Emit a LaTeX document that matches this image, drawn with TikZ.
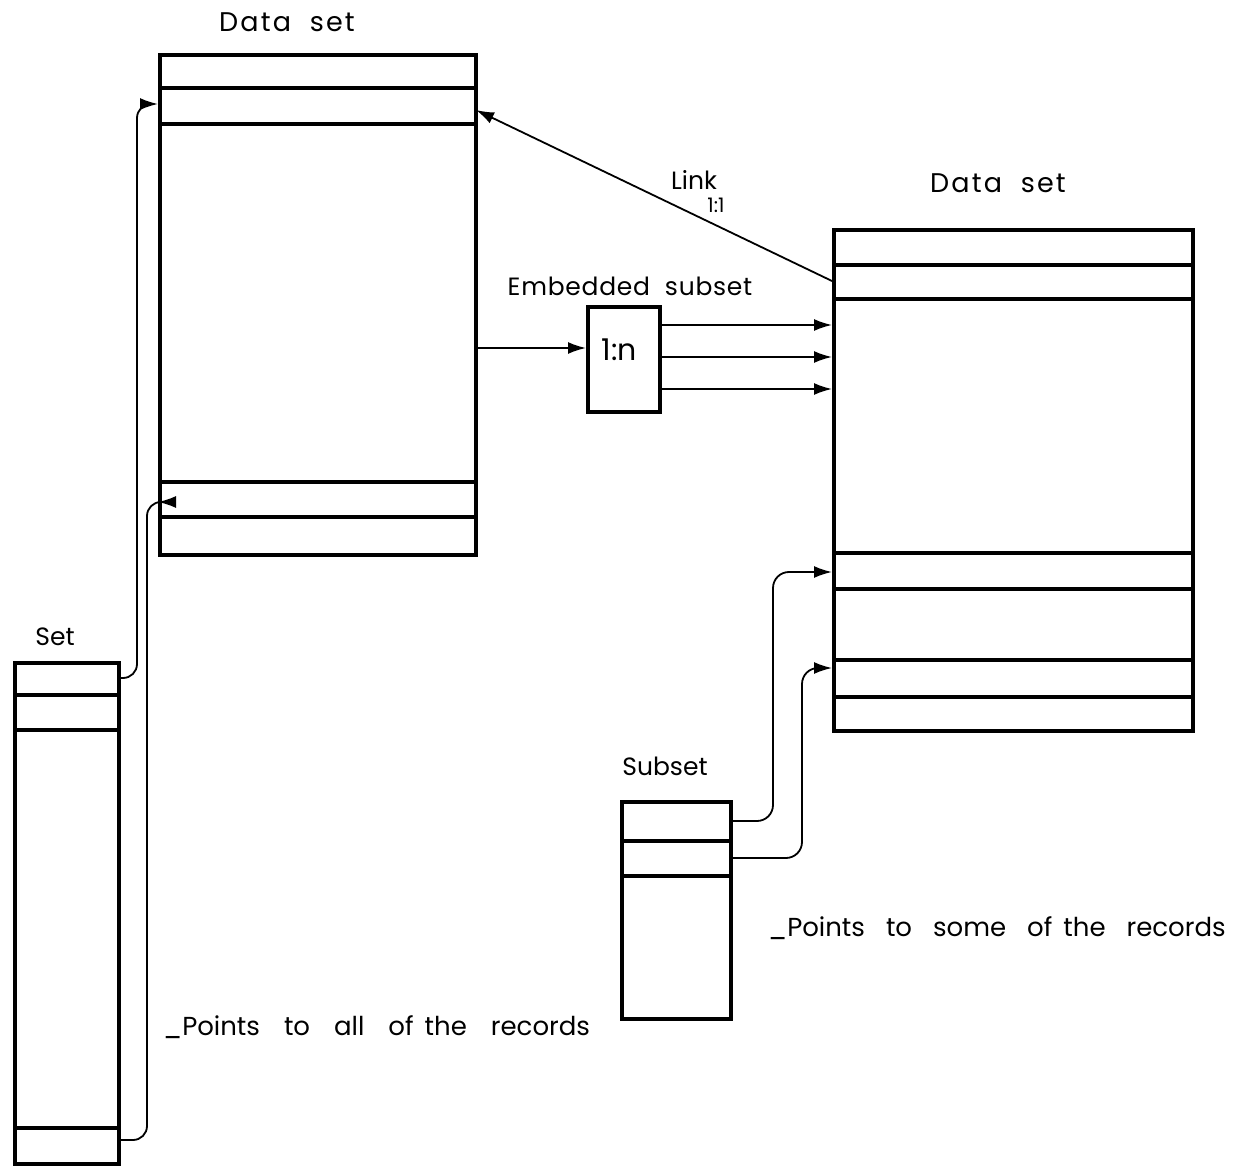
\documentclass[tikz,border=0pt]{standalone}
\usepackage{fontspec}
\setmainfont{Poppins}
\usetikzlibrary{arrows.meta}
\newcommand{\mywidegap}{\hspace{24pt}}
\newcommand{\mymidgap}{\hspace{21pt}}
\newcommand{\mynarrowgap}{\hspace{11pt}}
\begin{document}
\begin{tikzpicture}[x=1pt,y=-1pt,
  box/.style={draw, line width=4pt, inner sep=0pt, anchor=north west},
  sep/.style={line width=4pt},
  conn/.style={line width=1.8pt, -{Latex[length=18pt,width=12pt]}},
  lbl/.style={font=\fontsize{25}{29}\selectfont, inner sep=0pt},
  big/.style={font=\fontsize{27}{31}\selectfont\addfontfeature{LetterSpace=8}, inner sep=0pt},
  small/.style={font=\fontsize{20}{24}\selectfont, inner sep=0pt}]
\useasboundingbox (0,0) rectangle (1240,1174);
\fill[white] (0,0) rectangle (1240,1174);

% Data set (left)
\node[box, minimum width=316pt, minimum height=500pt] (ds1) at (158,53) {};
\draw[sep] (158,88) -- (474,88);
\draw[sep] (158,124) -- (474,124);
\draw[sep] (158,482) -- (474,482);
\draw[sep] (158,517) -- (474,517);
\node[big] (ds1label) at (287,22) {Data\ \ set};

% Data set (right)
\node[box, minimum width=359pt, minimum height=501pt] (ds2) at (832,228) {};
\draw[sep] (832,265) -- (1191,265);
\draw[sep] (832,299) -- (1191,299);
\draw[sep] (832,553) -- (1191,553);
\draw[sep] (832,589) -- (1191,589);
\draw[sep] (832,660) -- (1191,660);
\draw[sep] (832,697) -- (1191,697);
\node[big] (ds2label) at (998,183) {Data\ \ set};

% Embedded subset
\node[box, minimum width=72pt, minimum height=105pt] (emb) at (586,305) {};
\node[font=\fontsize{30}{34}\selectfont, inner sep=0pt] (embtext) at (619,350) {1:n};
\node[lbl, font=\fontsize{25}{29}\selectfont\addfontfeature{LetterSpace=3}] (emblabel) at (630,286) {Embedded\ \ subset};

% Set
\node[box, minimum width=104pt, minimum height=501pt] (set) at (13,661) {};
\draw[sep] (13,695) -- (117,695);
\draw[sep] (13,730) -- (117,730);
\draw[sep] (13,1128) -- (117,1128);
\node[lbl] (setlabel) at (55,637) {Set};

% Subset
\node[box, minimum width=109pt, minimum height=217pt] (sub) at (620,800) {};
\draw[sep] (620,841) -- (729,841);
\draw[sep] (620,876) -- (729,876);
\node[lbl] (sublabel) at (665,766) {Subset};

% connector end points
\coordinate (setr1) at (117,678);
\coordinate (setrn) at (117,1140);
\coordinate (ds1r1) at (158,104);
\coordinate (ds1rn) at (158,502);
\coordinate (ds1out) at (474,348);
\coordinate (embin) at (586,348);
\coordinate (emb1) at (658,325);
\coordinate (emb2) at (658,357);
\coordinate (emb3) at (658,389);
\coordinate (ds2e1) at (832,325);
\coordinate (ds2e2) at (832,357);
\coordinate (ds2e3) at (832,389);
\coordinate (ds2link) at (832,281);
\coordinate (ds1link) at (476,110);
\coordinate (subr1) at (730,821);
\coordinate (subr2) at (730,858);
\coordinate (ds2s1) at (832,572);
\coordinate (ds2s2) at (832,668);

% Set -> Data set
\draw[conn, rounded corners=14pt] (setr1) -| (137,104) -- (ds1r1);
\draw[conn, rounded corners=14pt] (setrn) -| (147,502) -- (ds1rn);

% Link 1:1
\draw[conn] (ds2link) -- (ds1link);
\node[lbl] (linklabel) at (694,180) {Link};
\node[small] (linkratio) at (716,205) {1:1};

% Embedded subset arrows
\draw[conn] (ds1out) -- (embin);
\draw[conn] (emb1) -- (ds2e1);
\draw[conn] (emb2) -- (ds2e2);
\draw[conn] (emb3) -- (ds2e3);

% Subset -> Data set
\draw[conn, rounded corners=16pt] (subr1) -| (773,572) -- (ds2s1);
\draw[conn, rounded corners=16pt] (subr2) -| (802,668) -- (ds2s2);

% Notes
\node[lbl, anchor=west, font=\fontsize{26}{30}\selectfont] (note1) at (163,1027) {\_Points\mywidegap to\mywidegap all\mywidegap of\mynarrowgap the\mywidegap records};
\node[lbl, anchor=west, font=\fontsize{26}{30}\selectfont] (note2) at (768,928) {\_Points\mymidgap to\mymidgap some\mymidgap of\mynarrowgap the\mymidgap records};
\end{tikzpicture}
\end{document}
